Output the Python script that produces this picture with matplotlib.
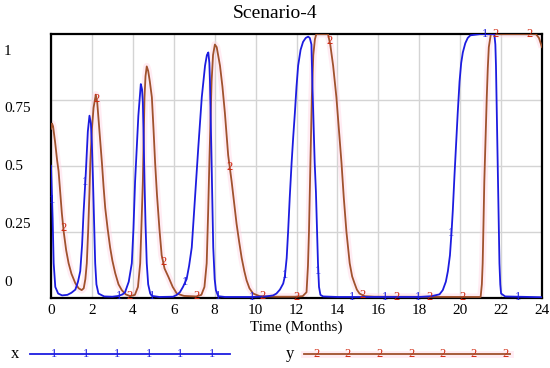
import numpy as np
import matplotlib
matplotlib.use("Agg")
import matplotlib.pyplot as plt
from matplotlib.lines import Line2D

# ---------------- data ----------------
title = "Scenario-4"
x_label = "Time (Months)"
x_ticks = [0, 2, 4, 6, 8, 10, 12, 14, 16, 18, 20, 22, 24]
y_tick_labels = ["1", "0.75", "0.5", "0.25", "0"]
series_names = ["x", "y"]
series_tags = ["1", "2"]

t_x = [0.00, 0.05, 0.08, 0.13, 0.21, 0.35, 0.54, 0.80, 1.00, 1.19, 1.32, 1.43, 1.52, 1.59,
       1.70, 1.80, 1.88, 1.95, 2.00, 2.05, 2.10, 2.16, 2.22, 2.32, 2.60, 3.00, 3.30, 3.50,
       3.62, 3.80, 3.95, 4.03, 4.11, 4.20, 4.27, 4.39, 4.45, 4.49, 4.53, 4.57, 4.62, 4.68,
       4.75, 4.85, 4.93, 5.30, 5.97, 6.15, 6.30, 6.45, 6.63, 6.75, 6.88, 7.04, 7.20, 7.37,
       7.53, 7.62, 7.69, 7.74, 7.77, 7.81, 7.85, 7.89, 7.93, 8.00, 8.06, 8.17, 8.50, 9.80,
       10.50, 10.86, 11.02, 11.19, 11.35, 11.43, 11.52, 11.59, 11.67, 11.76, 11.84, 11.92,
       12.00, 12.08, 12.20, 12.32, 12.45, 12.57, 12.65, 12.73, 12.78, 12.85, 12.89, 12.95,
       13.00, 13.05, 13.10, 13.17, 13.30, 14.00, 18.00, 18.60, 18.99, 19.15, 19.30,
       19.40, 19.50, 19.58, 19.64, 19.72, 19.80, 19.88, 19.97, 20.05, 20.13, 20.25, 20.37,
       20.50, 21.00, 21.67, 21.72, 21.75, 21.79, 21.83, 21.87, 21.92, 21.96, 22.00, 22.20,
       24.00]
x_vals = [0.50, 0.37, 0.30, 0.13, 0.04, 0.015, 0.008, 0.010, 0.018, 0.030, 0.060, 0.10, 0.20, 0.32,
          0.47, 0.63, 0.69, 0.66, 0.58, 0.45, 0.30, 0.13, 0.05, 0.015, 0.004, 0.003, 0.006, 0.012,
          0.020, 0.060, 0.13, 0.26, 0.44, 0.58, 0.69, 0.81, 0.79, 0.74, 0.60, 0.44, 0.28, 0.13,
          0.05, 0.015, 0.006, 0.002, 0.003, 0.010, 0.020, 0.040, 0.070, 0.12, 0.19, 0.38, 0.57, 0.76,
          0.88, 0.92, 0.93, 0.89, 0.82, 0.67, 0.51, 0.34, 0.19, 0.07, 0.028, 0.005, 0.002, 0.002,
          0.004, 0.008, 0.015, 0.030, 0.053, 0.080, 0.15, 0.25, 0.38, 0.51, 0.61, 0.70,
          0.80, 0.88, 0.94, 0.97, 0.985, 0.99, 0.985, 0.96, 0.80, 0.62, 0.51, 0.40,
          0.27, 0.13, 0.04, 0.01, 0.004, 0.002, 0.002, 0.005, 0.012, 0.028, 0.060,
          0.10, 0.16, 0.25, 0.33, 0.46, 0.58, 0.70, 0.82, 0.89, 0.93, 0.965, 0.985,
          0.995, 1.00, 1.00, 0.96, 0.88, 0.70, 0.51, 0.32, 0.13, 0.05, 0.015, 0.004,
          0.001]

t_y = [0.00, 0.05, 0.10, 0.20, 0.30, 0.37, 0.45, 0.53, 0.62, 0.74, 0.86, 1.00, 1.19, 1.35,
       1.50, 1.60, 1.68, 1.75, 1.82, 1.88, 1.92, 2.00, 2.08, 2.19, 2.26, 2.32, 2.40, 2.49,
       2.57, 2.65, 2.77, 2.89, 3.00, 3.14, 3.30, 3.46, 3.65, 3.87, 4.10, 4.25, 4.36, 4.42,
       4.49, 4.53, 4.57, 4.62, 4.68, 4.75, 4.83, 4.93, 5.01, 5.09, 5.18, 5.30, 5.41, 5.55,
       5.74, 5.95, 6.15, 6.50, 7.10, 7.35, 7.50, 7.61, 7.68, 7.74, 7.80, 7.85, 7.92, 8.01,
       8.10, 8.26, 8.38, 8.50, 8.66, 8.83, 8.95, 9.07, 9.20, 9.32, 9.45, 9.56, 9.70, 9.88,
       10.20, 11.00, 11.90, 12.30, 12.49, 12.56, 12.61, 12.68, 12.75, 12.82, 12.90, 12.97,
       13.54, 13.65, 13.79, 13.95, 14.08, 14.20, 14.31, 14.44, 14.60, 14.72, 14.84, 14.95,
       15.08, 15.33, 15.80, 21.00, 21.06, 21.10, 21.14, 21.18, 21.24,
       21.30, 21.35, 21.40, 21.50, 23.70, 23.85, 24.00]
y_vals = [0.64, 0.66, 0.65, 0.59, 0.52, 0.48, 0.40, 0.32, 0.25, 0.18, 0.13, 0.09, 0.054, 0.035,
          0.028, 0.035, 0.07, 0.13, 0.26, 0.40, 0.51, 0.64, 0.72, 0.77, 0.74, 0.68, 0.60, 0.51,
          0.42, 0.34, 0.26, 0.19, 0.14, 0.092, 0.05, 0.028, 0.012, 0.005, 0.010, 0.040, 0.13, 0.27,
          0.44, 0.60, 0.76, 0.84, 0.877, 0.86, 0.82, 0.76, 0.64, 0.51, 0.39, 0.26, 0.16, 0.11,
          0.078, 0.040, 0.015, 0.006, 0.004, 0.010, 0.040, 0.13, 0.32, 0.51, 0.68, 0.82, 0.92, 0.96,
          0.95, 0.88, 0.80, 0.70, 0.54, 0.44, 0.36, 0.28, 0.21, 0.15, 0.10, 0.065, 0.035, 0.015,
          0.005, 0.003, 0.003, 0.005, 0.020, 0.12, 0.25, 0.51, 0.76, 0.92, 0.98, 1.00,
          1.00, 0.96, 0.88, 0.76, 0.63, 0.51, 0.38, 0.25, 0.13, 0.08, 0.053, 0.030,
          0.015, 0.005, 0.003, 0.002, 0.05, 0.13, 0.28, 0.44, 0.60,
          0.76, 0.87, 0.95, 1.00, 1.00, 0.985, 0.95]

# ---------------- style ----------------
BLUE = "#1c1ce0"
BROWN = "#a0522d"
RED = "#d02810"
PINK = "#ffd6e6"
SERIF = ["Liberation Serif", "DejaVu Serif"]
plt.rcParams["font.family"] = SERIF

W, H = 550, 368
fig = plt.figure(figsize=(W / 100, H / 100), dpi=100)
L, R, T, B = 51, 542, 34, 297.5
ax = fig.add_axes([L / W, 1 - B / H, (R - L) / W, (B - T) / H])

ax.plot(t_y, y_vals, color=PINK, lw=5, alpha=0.45, solid_capstyle="butt", zorder=2)
ax.plot(t_x, x_vals, color=BLUE, lw=1.3, zorder=4)
ax.plot(t_y, y_vals, color=BROWN, lw=1.3, zorder=3)

# series tag markers along lines
step = 1.627
for tt, vv, tag, col, start in [(t_x, x_vals, "1", BLUE, 0.05), (t_y, y_vals, "2", RED, 0.6)]:
    mt = np.arange(start, 24.0, step)
    mv = np.interp(mt, tt, vv)
    for a, b in zip(mt, mv):
        ax.text(a, b, tag, color=col, fontsize=9, ha="center", va="center",
                zorder=5, clip_on=False)

ax.set_xlim(0, 24)
ax.set_ylim(0, 1)
ax.set_xticks(x_ticks)
ax.set_xticklabels([str(v) for v in x_ticks], fontsize=11)
ax.set_yticks([0.25, 0.5, 0.75])
ax.set_yticklabels([])
ax.tick_params(length=0, pad=5)
ax.grid(True, color="#d4d4d4", lw=1)
ax.set_axisbelow(True)
for s in ax.spines.values():
    s.set_linewidth(1.6)
    s.set_color("black")
ax.set_xlabel(x_label, fontsize=11, labelpad=2)
fig.suptitle(title, fontsize=14, y=1 - 13 / H, va="center")

# y labels (Vensim style, evenly spread)
ylab_px = [51.7, 108, 166, 224, 282]
for lab, py in zip(y_tick_labels, ylab_px):
    fig.text(4 / W, 1 - py / H, lab, fontsize=11, ha="left", va="center")

# legend below plot
leg_y = 1 - 354 / H
legs = [("x", 15, 30, 230, BLUE, BLUE, [54, 86, 117, 149, 180, 212]),
        ("y", 290, 304, 510, BROWN, RED, [317, 348, 380, 412, 443, 474, 506])]
for (name, lx, x0, x1, lc, mc, marks), tag in zip(legs, series_tags):
    fig.text(lx / W, leg_y, name, fontsize=12, ha="center", va="center")
    if lc == BROWN:
        fig.add_artist(Line2D([x0 / W, x1 / W], [leg_y, leg_y], color=PINK, lw=5, alpha=0.45,
                              transform=fig.transFigure))
    fig.add_artist(Line2D([x0 / W, x1 / W], [leg_y, leg_y], color=lc, lw=1.3,
                          transform=fig.transFigure))
    for m in marks:
        fig.text(m / W, leg_y, tag, color=mc, fontsize=9, ha="center", va="center")

fig.savefig("out.png", dpi=100)
